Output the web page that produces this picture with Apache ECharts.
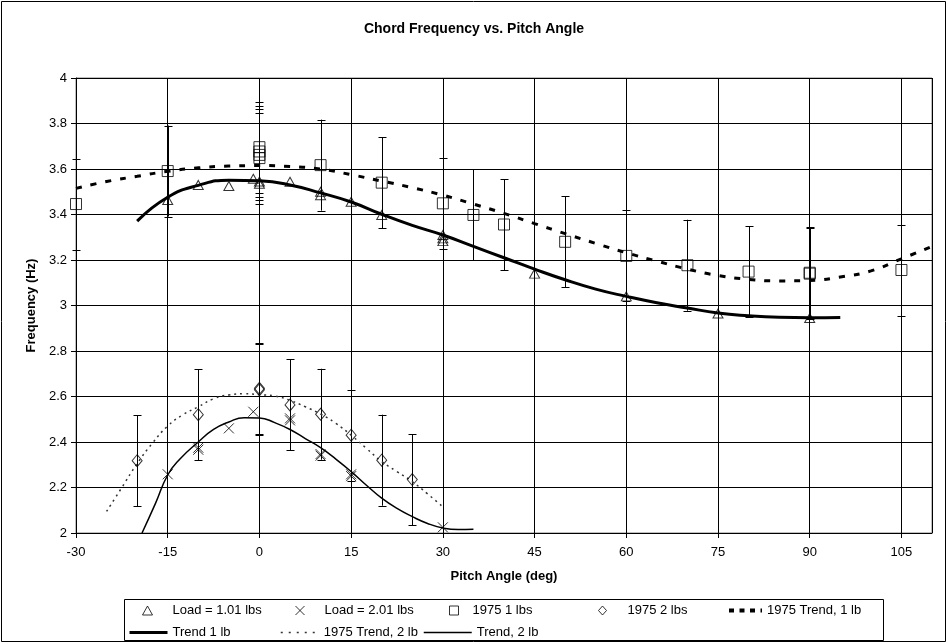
<!DOCTYPE html>
<html><head><meta charset="utf-8">
<script src="https://cdn.jsdelivr.net/npm/echarts@6/dist/echarts.min.js"></script>
<style>html,body{margin:0;padding:0;background:#fff}#c{width:948px;height:644px}</style>
</head><body><div id="c"></div>
<script>
// ---- data ----
const titleText = 'Chord Frequency vs. Pitch Angle';
const xName = 'Pitch Angle (deg)';
const yName = 'Frequency (Hz)';
const xMin = -30, xMax = 110, xStep = 15;
const yMin = 2, yMax = 4, yStep = 0.2;

const load101 = [[-15,3.464],[-10,3.53],[-5,3.525],[-1,3.557],[0,3.535],[0,3.545],[5,3.544],[10,3.50],[10,3.485],[15,3.456],[20,3.398],[30,3.31],[30,3.295],[30,3.283],[45,3.14],[60,3.04],[75,2.965],[90,2.945]];
const load201 = [[-15,2.258],[-10,2.375],[-10,2.366],[-5,2.46],[-1,2.533],[5,2.504],[5,2.495],[10,2.347],[10,2.34],[15,2.258],[15,2.25],[30,2.025]];
const y1975_1 = [[-30,3.446],[-15,3.591],[0,3.696],[0,3.677],[0,3.662],[0,3.648],[10,3.617],[20,3.54],[30,3.449],[35,3.398],[40,3.356],[50,3.28],[60,3.218],[70,3.177],[80,3.149],[90,3.144],[90,3.14],[105,3.156]];
const y1975_2 = [[-20,2.318],[-10,2.52],[0,2.636],[0,2.63],[5,2.563],[10,2.522],[15,2.43],[20,2.32],[25,2.235]];
const errAmount = 0.2; // fixed-value error bars on the 1975 data

const trend1975_1 = [[-30,3.515],[-25,3.545],[-20,3.568],[-15,3.59],[-10,3.605],[-5,3.613],[0,3.615],[5,3.611],[10,3.60],[15,3.575],[20,3.547],[25,3.518],[30,3.485],[35,3.446],[40,3.405],[45,3.36],[50,3.316],[55,3.273],[60,3.232],[65,3.195],[70,3.16],[75,3.132],[80,3.115],[85,3.108],[90,3.11],[95,3.125],[100,3.152],[105,3.205],[110,3.26]];
const trend1 = [[-20,3.371],[-15,3.476],[-10,3.528],[-5,3.551],[0,3.548],[5,3.53],[10,3.495],[15,3.455],[20,3.401],[25,3.352],[30,3.31],[35,3.26],[40,3.21],[45,3.16],[50,3.113],[55,3.072],[60,3.04],[65,3.012],[70,2.989],[75,2.967],[80,2.955],[85,2.948],[90,2.946],[95,2.947]];
const trend1975_2 = [[-25,2.095],[-22.5,2.20],[-20,2.305],[-17.5,2.395],[-15,2.47],[-12.5,2.52],[-10,2.555],[-7.5,2.59],[-5,2.607],[-2.5,2.612],[0,2.608],[2.5,2.602],[5,2.583],[7.5,2.555],[10,2.523],[12.5,2.482],[15,2.43],[17.5,2.372],[20,2.314],[22.5,2.27],[25,2.226],[27.5,2.172],[30,2.115]];
const trend2 = [[-19.2,2.0],[-17,2.13],[-15,2.255],[-13,2.325],[-10,2.40],[-7.5,2.455],[-5,2.488],[-2.5,2.507],[0,2.506],[2.5,2.485],[5,2.455],[7.5,2.415],[10,2.375],[12.5,2.325],[15,2.27],[17.5,2.21],[20,2.153],[22.5,2.108],[25,2.072],[27.5,2.042],[30,2.022],[32.5,2.015],[35,2.016]];

const names = ['Load = 1.01 lbs','Load = 2.01 lbs','1975 1 lbs','1975 2 lbs','1975 Trend, 1 lb','Trend 1 lb','1975 Trend, 2 lb','Trend, 2 lb'];

// ---- chart ----
const FONT = '"Liberation Sans", Arial, sans-serif';
const markerStyle = {color:'rgba(0,0,0,0)', borderColor:'#000', borderWidth:1};
const xPath = 'path://M0,0L10,10M10,0L0,10';

function errSeries(id, pts){
  return {
    type:'custom', name:id, silent:true, z:2,
    data: pts.map(p=>[p[0], p[1]-errAmount, p[1]+errAmount]),
    encode:{x:0, y:[1,2]},
    renderItem:(params, api)=>{
      const x = api.value(0);
      const lo = api.coord([x, api.value(1)]);
      const hi = api.coord([x, api.value(2)]);
      const cx = Math.round(lo[0]) + 0.5, hw = 4;
      const st = {stroke:'#000', lineWidth:1};
      return {type:'group', children:[
        {type:'line', shape:{x1:cx, y1:lo[1], x2:cx, y2:hi[1]}, style:st},
        {type:'line', shape:{x1:cx-hw, y1:Math.round(lo[1])+0.5, x2:cx+hw, y2:Math.round(lo[1])+0.5}, style:st},
        {type:'line', shape:{x1:cx-hw, y1:Math.round(hi[1])+0.5, x2:cx+hw, y2:Math.round(hi[1])+0.5}, style:st}
      ]};
    }
  };
}

function leg(name, left, top, opts){
  return Object.assign({
    data:[name], left, top, padding:0, itemGap:0,
    selectedMode:false,
    textStyle:{fontFamily:FONT, fontSize:13, color:'#000'}
  }, opts);
}
const hideSym = {opacity:0, borderWidth:0};

const chart = echarts.init(document.getElementById('c'), null, {renderer:'canvas'});
chart.setOption({
  animation:false,
  backgroundColor:'#fff',
  textStyle:{fontFamily:FONT},
  title:{text:titleText, left:'center', top:22, padding:0,
    textStyle:{fontFamily:FONT, fontSize:14, fontWeight:'bold', color:'#000'}},
  grid:{left:76, right:16, top:78, bottom:111, show:true, borderColor:'#808080', borderWidth:1},
  xAxis:{type:'value', min:xMin, max:xMax, interval:xStep,
    name:xName, nameLocation:'middle', nameGap:37,
    nameTextStyle:{fontFamily:FONT, fontSize:13, fontWeight:'bold', color:'#000'},
    axisLine:{show:true, onZero:false, lineStyle:{color:'#000', width:1}},
    axisTick:{show:true, inside:false, length:5, lineStyle:{color:'#000'}},
    axisLabel:{fontFamily:FONT, fontSize:13, color:'#000', margin:13, showMaxLabel:false},
    splitLine:{show:true, lineStyle:{color:'#000', width:1}}},
  yAxis:{type:'value', min:yMin, max:yMax, interval:yStep,
    name:yName, nameLocation:'middle', nameGap:37,
    nameTextStyle:{fontFamily:FONT, fontSize:13, fontWeight:'bold', color:'#000'},
    axisLine:{show:true, onZero:false, lineStyle:{color:'#000', width:1}},
    axisTick:{show:true, inside:false, length:5, lineStyle:{color:'#000'}},
    axisLabel:{fontFamily:FONT, fontSize:13, color:'#000', margin:9},
    splitLine:{show:true, lineStyle:{color:'#000', width:1}}},
  legend:[
    leg(names[0], 142, 604, {itemWidth:10, itemHeight:9, itemStyle:{borderWidth:1}, textStyle:{fontFamily:FONT, fontSize:13, color:'#000', padding:[0,0,0,15]}}),
    leg(names[1], 295, 604, {itemWidth:9, itemHeight:9, itemStyle:{borderWidth:1}, textStyle:{fontFamily:FONT, fontSize:13, color:'#000', padding:[0,0,0,15]}}),
    leg(names[2], 449, 604, {itemWidth:9, itemHeight:9, itemStyle:{borderWidth:1}, textStyle:{fontFamily:FONT, fontSize:13, color:'#000', padding:[0,0,0,9]}}),
    leg(names[3], 598, 604, {itemWidth:8, itemHeight:9, itemStyle:{borderWidth:1}, textStyle:{fontFamily:FONT, fontSize:13, color:'#000', padding:[0,0,0,16]}}),
    leg(names[4], 727, 604, {itemWidth:33, itemHeight:9, itemStyle:hideSym, lineStyle:{width:4, type:[5,5.5]}}),
    leg(names[5], 128, 626, {itemWidth:38, itemHeight:9, itemStyle:hideSym, lineStyle:{width:3}}),
    leg(names[6], 280, 626, {itemWidth:38, itemHeight:9, itemStyle:hideSym, lineStyle:{width:1.5, type:[2,6]}}),
    leg(names[7], 423, 626, {itemWidth:48, itemHeight:9, itemStyle:hideSym, lineStyle:{width:1.5}})
  ],
  graphic:[
    {type:'rect', shape:{x:1.5, y:1.5, width:944, height:640}, style:{fill:'none', stroke:'#000', lineWidth:1}, silent:true, z:-10},
    {type:'rect', shape:{x:124.5, y:599.5, width:759, height:41}, style:{fill:'none', stroke:'#000', lineWidth:1}, silent:true}
  ],
  series:[
    errSeries('err1975_1', y1975_1),
    errSeries('err1975_2', y1975_2),
    {name:names[0], type:'scatter', data:load101, symbol:'triangle', symbolSize:[10,9], itemStyle:markerStyle, z:5},
    {name:names[1], type:'scatter', data:load201, symbol:xPath, symbolSize:10, itemStyle:markerStyle, z:5},
    {name:names[2], type:'scatter', data:y1975_1, symbol:'rect', symbolSize:11, itemStyle:markerStyle, z:5},
    {name:names[3], type:'scatter', data:y1975_2, symbol:'diamond', symbolSize:[10,12], itemStyle:markerStyle, z:5},
    {name:names[4], type:'line', data:trend1975_1, smooth:true, symbol:'none', z:4,
      lineStyle:{color:'#000', width:3, type:[6,9]}, itemStyle:{color:'#000'}},
    {name:names[5], type:'line', data:trend1, smooth:true, symbol:'none', z:4,
      lineStyle:{color:'#000', width:3}, itemStyle:{color:'#000'}},
    {name:names[6], type:'line', data:trend1975_2, smooth:true, symbol:'none', z:4,
      lineStyle:{color:'#333', width:1.5, type:[2,4]}, itemStyle:{color:'#333'}},
    {name:names[7], type:'line', data:trend2, smooth:true, symbol:'none', z:4,
      lineStyle:{color:'#000', width:1.5}, itemStyle:{color:'#000'}}
  ]
});
</script></body></html>
